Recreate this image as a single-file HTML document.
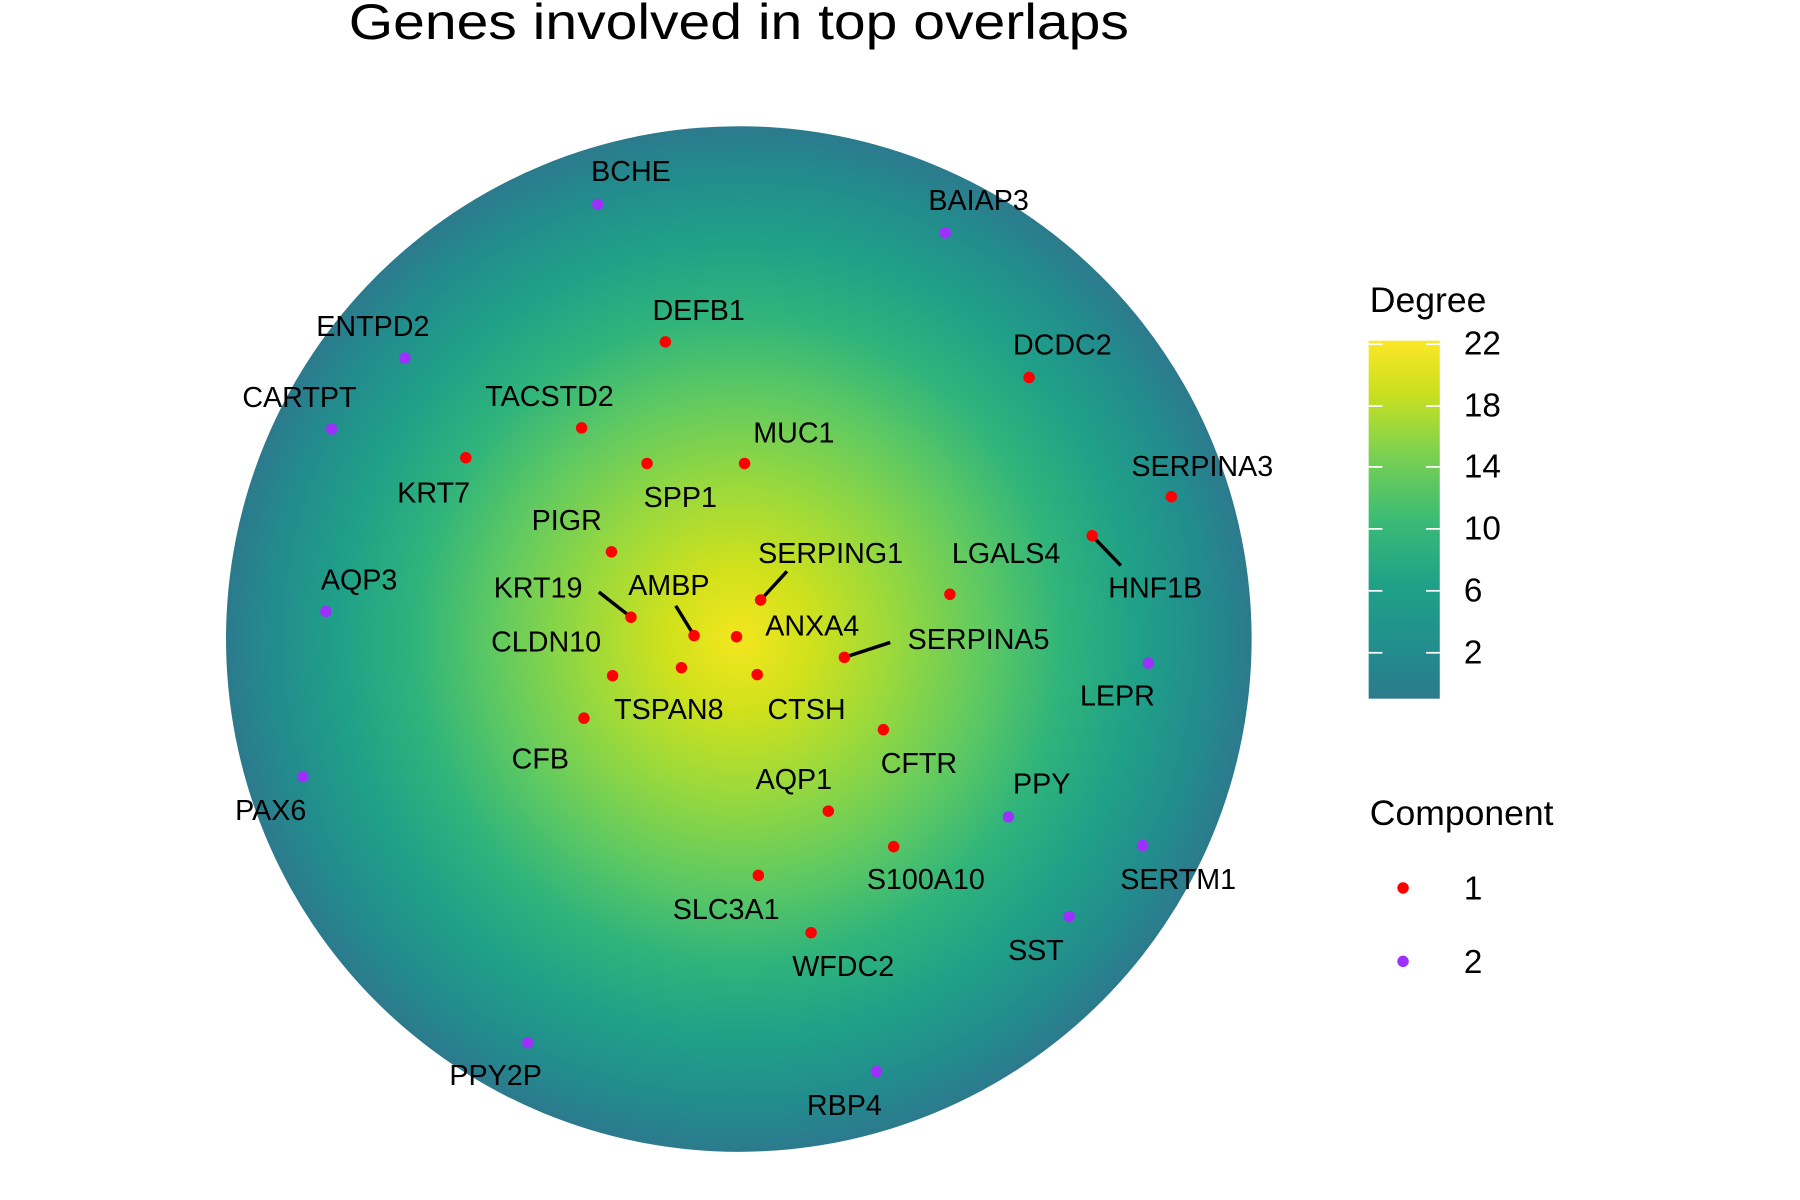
<!DOCTYPE html>
<html><head><meta charset="utf-8"><style>
html,body{margin:0;padding:0;background:#fff;}
svg{display:block;}
text{font-family:"Liberation Sans",sans-serif;fill:#000;}
</style></head><body>
<svg width="1800" height="1200" viewBox="0 0 1569 1046" preserveAspectRatio="none" xmlns="http://www.w3.org/2000/svg">
<defs>
<radialGradient id="rg" cx="644" cy="557" r="447" gradientUnits="userSpaceOnUse">
<stop offset="0" stop-color="#f4e61e"/>
<stop offset="0.14" stop-color="#d0e11c"/>
<stop offset="0.3" stop-color="#9ad93c"/>
<stop offset="0.48" stop-color="#5ec962"/>
<stop offset="0.63" stop-color="#30b47b"/>
<stop offset="0.78" stop-color="#1fa088"/>
<stop offset="0.92" stop-color="#238a8d"/>
<stop offset="1" stop-color="#2c7a8d"/>
</radialGradient>
<linearGradient id="lg" x1="0" y1="0" x2="0" y2="1">
<stop offset="0" stop-color="#fde725"/>
<stop offset="0.15" stop-color="#c8e020"/>
<stop offset="0.32" stop-color="#7ad151"/>
<stop offset="0.5" stop-color="#3bbb75"/>
<stop offset="0.68" stop-color="#1fa187"/>
<stop offset="0.85" stop-color="#218f8d"/>
<stop offset="1" stop-color="#2c7a8d"/>
</linearGradient>
</defs>
<text x="644" y="34" font-size="44" text-anchor="middle" textLength="680" lengthAdjust="spacingAndGlyphs">Genes involved in top overlaps</text>
<circle cx="644" cy="557" r="447" fill="url(#rg)"/>
<g stroke="#000" stroke-width="3">
<line x1="952" y1="467" x2="977" y2="493"/>
<line x1="663" y1="523" x2="686" y2="498"/>
<line x1="550" y1="538" x2="522" y2="516"/>
<line x1="605" y1="554" x2="589" y2="528"/>
<line x1="736" y1="573" x2="776" y2="560"/>
</g>
<g fill="#ff0000">
<circle cx="580" cy="298" r="5"/><circle cx="897" cy="329" r="5"/><circle cx="507" cy="373" r="5"/>
<circle cx="649" cy="404" r="5"/><circle cx="564" cy="404" r="5"/><circle cx="406" cy="399" r="5"/>
<circle cx="1021" cy="433" r="5"/><circle cx="533" cy="481" r="5"/><circle cx="952" cy="467" r="5"/>
<circle cx="828" cy="518" r="5"/><circle cx="663" cy="523" r="5"/><circle cx="550" cy="538" r="5"/>
<circle cx="605" cy="554" r="5"/><circle cx="642" cy="555" r="5"/><circle cx="736" cy="573" r="5"/>
<circle cx="534" cy="589" r="5"/><circle cx="594" cy="582" r="5"/><circle cx="660" cy="588" r="5"/>
<circle cx="509" cy="626" r="5"/><circle cx="770" cy="636" r="5"/><circle cx="722" cy="707" r="5"/>
<circle cx="779" cy="738" r="5"/><circle cx="661" cy="763" r="5"/><circle cx="707" cy="813" r="5"/>
</g>
<g fill="#9b30ff">
<circle cx="521" cy="178" r="5"/><circle cx="824" cy="203" r="5"/><circle cx="353" cy="312" r="5"/>
<circle cx="289" cy="374" r="5"/><circle cx="284" cy="533" r="5"/><circle cx="1001" cy="578" r="5"/>
<circle cx="264" cy="677" r="5"/><circle cx="879" cy="712" r="5"/><circle cx="996" cy="737" r="5"/>
<circle cx="932" cy="799" r="5"/><circle cx="460" cy="909" r="5"/><circle cx="764" cy="934" r="5"/>
</g>
<g font-size="25" text-anchor="middle" dominant-baseline="central">
<text x="609" y="271">DEFB1</text><text x="926" y="301">DCDC2</text><text x="479" y="346">TACSTD2</text>
<text x="692" y="378">MUC1</text><text x="593" y="434">SPP1</text><text x="378" y="430">KRT7</text>
<text x="1048" y="407">SERPINA3</text><text x="494" y="454">PIGR</text><text x="1007" y="513">HNF1B</text>
<text x="877" y="483">LGALS4</text><text x="724" y="483">SERPING1</text><text x="469" y="513">KRT19</text>
<text x="583" y="511">AMBP</text><text x="708" y="546">ANXA4</text><text x="853" y="558">SERPINA5</text>
<text x="476" y="560">CLDN10</text><text x="583" y="619">TSPAN8</text><text x="703" y="619">CTSH</text>
<text x="471" y="662">CFB</text><text x="801" y="666">CFTR</text><text x="692" y="680">AQP1</text>
<text x="807" y="767">S100A10</text><text x="633" y="793">SLC3A1</text><text x="735" y="843">WFDC2</text>
<text x="550" y="150">BCHE</text><text x="853" y="175">BAIAP3</text><text x="325" y="285">ENTPD2</text>
<text x="261" y="347">CARTPT</text><text x="313" y="506">AQP3</text><text x="974" y="607">LEPR</text>
<text x="236" y="707">PAX6</text><text x="908" y="684">PPY</text><text x="1027" y="767">SERTM1</text>
<text x="903" y="829">SST</text><text x="432" y="938">PPY2P</text><text x="736" y="964">RBP4</text>
</g>
<text x="1194" y="272" font-size="31">Degree</text>
<rect x="1193" y="297" width="62" height="312" fill="url(#lg)"/>
<g stroke="#fff" stroke-width="1.5">
<line x1="1193" y1="300" x2="1205" y2="300"/><line x1="1243" y1="300" x2="1255" y2="300"/>
<line x1="1193" y1="354" x2="1205" y2="354"/><line x1="1243" y1="354" x2="1255" y2="354"/>
<line x1="1193" y1="407" x2="1205" y2="407"/><line x1="1243" y1="407" x2="1255" y2="407"/>
<line x1="1193" y1="461" x2="1205" y2="461"/><line x1="1243" y1="461" x2="1255" y2="461"/>
<line x1="1193" y1="515" x2="1205" y2="515"/><line x1="1243" y1="515" x2="1255" y2="515"/>
<line x1="1193" y1="569" x2="1205" y2="569"/><line x1="1243" y1="569" x2="1255" y2="569"/>
</g>
<g font-size="29" dominant-baseline="central">
<text x="1276" y="300">22</text><text x="1276" y="354">18</text><text x="1276" y="407">14</text>
<text x="1276" y="461">10</text><text x="1276" y="515">6</text><text x="1276" y="569">2</text>
</g>
<text x="1194" y="719" font-size="31">Component</text>
<circle cx="1223" cy="774" r="5" fill="#ff0000"/>
<circle cx="1223" cy="838" r="5" fill="#9b30ff"/>
<text x="1276" y="775" font-size="29" dominant-baseline="central">1</text>
<text x="1276" y="839" font-size="29" dominant-baseline="central">2</text>
</svg>
</body></html>
